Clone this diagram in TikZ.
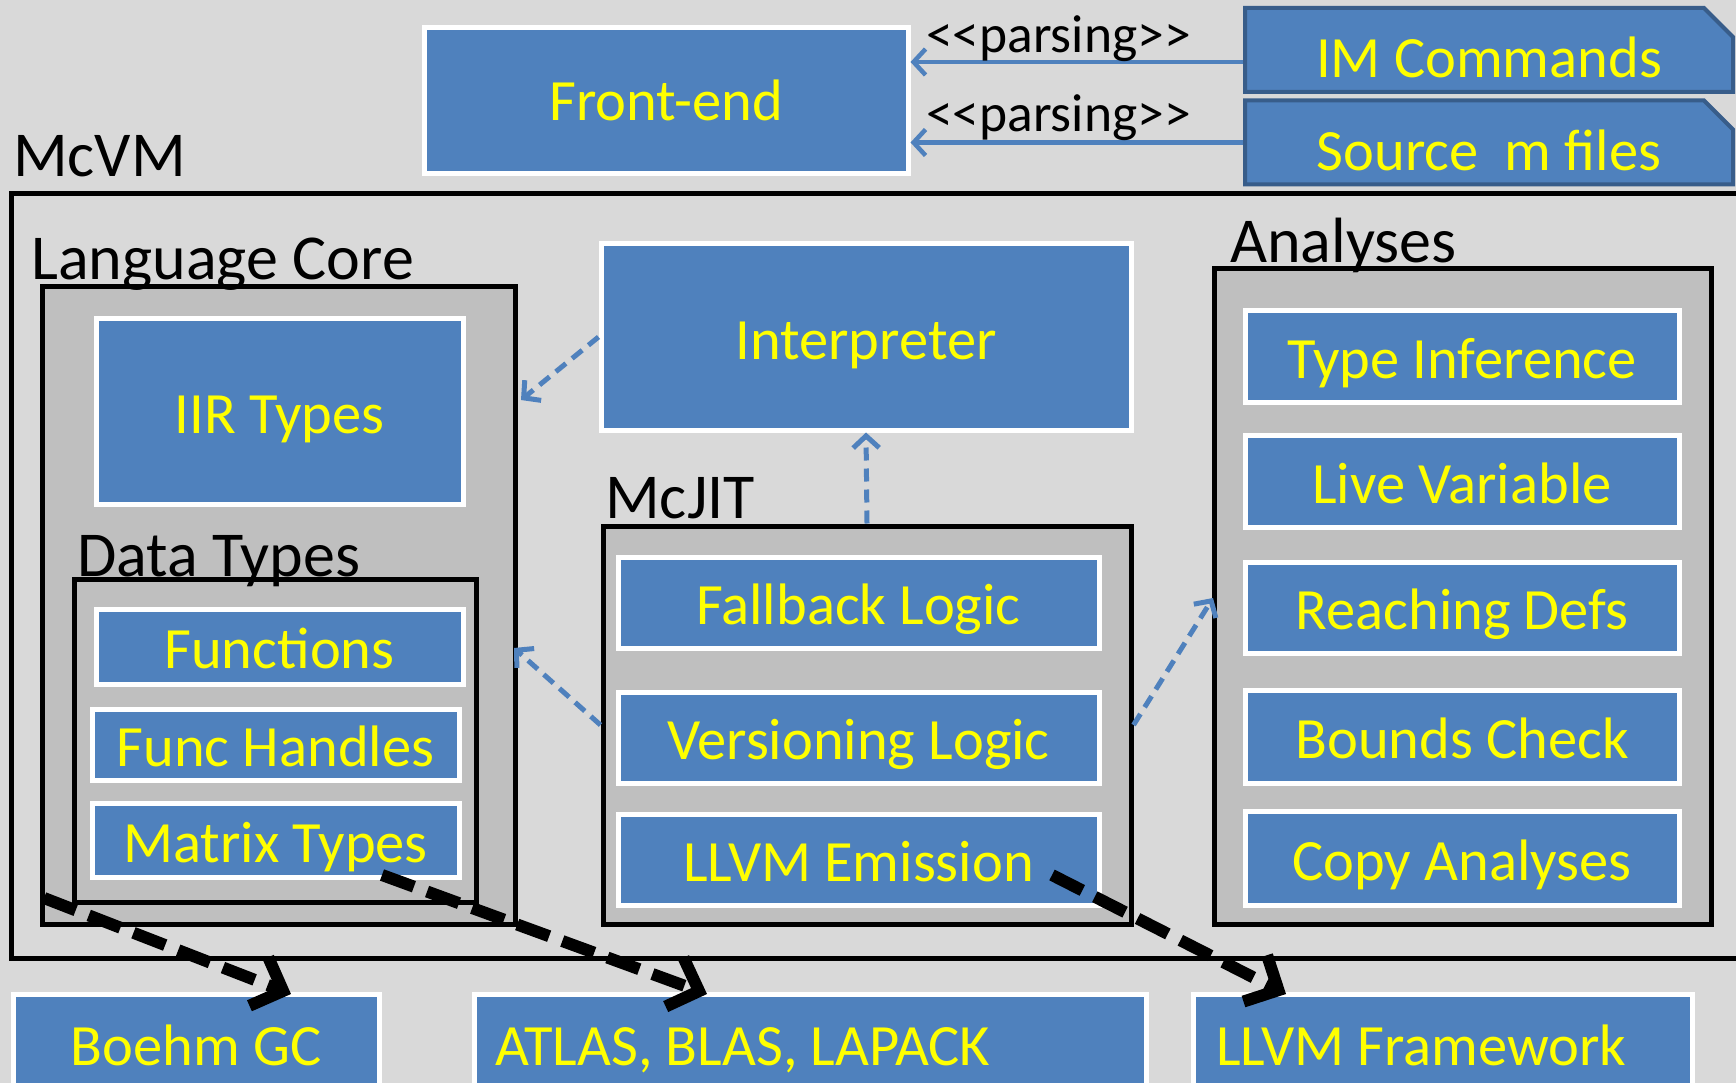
\documentclass[tikz,border=0pt]{standalone}
\usepackage{fontspec}
\setmainfont{Carlito}
\usetikzlibrary{arrows.meta,shapes.misc}
\definecolor{bggray}{HTML}{D9D9D9}
\definecolor{boxgray}{HTML}{BFBFBF}
\definecolor{mblue}{HTML}{4F81BD}
\definecolor{dblue}{HTML}{385D8A}
\definecolor{myellow}{HTML}{FFFF00}
\begin{document}
\begin{tikzpicture}[x=1pt,y=-1pt,
    blk/.style={fill=mblue,draw=white,line width=5pt,text=myellow,inner sep=0pt,text height=44pt,text depth=0pt,font=\fontsize{58.5}{70}\selectfont},
    file/.style={chamfered rectangle,chamfered rectangle corners=north east,chamfered rectangle xsep=15pt,chamfered rectangle ysep=14pt,
        fill=mblue,draw=dblue,line width=4pt,text=myellow,inner sep=0pt,text height=56pt,text depth=-6pt,font=\fontsize{58.5}{70}\selectfont},
    grp/.style={fill=boxgray,draw=black,line width=5pt,inner sep=0pt},
    ttl/.style={anchor=base west,inner sep=0pt,font=\fontsize{64}{76}\selectfont},
    uses/.style={draw=mblue,line width=5pt,dash pattern=on 13pt off 8pt,-{Straight Barb[length=12pt,width=26pt]}},
    parse/.style={draw=mblue,line width=4.5pt,-{Straight Barb[length=12pt,width=26pt]}},
    plbl/.style={anchor=base,inner sep=0pt,font=\fontsize{53.5}{64}\selectfont},
    links/.style={line width=12pt,dash pattern=on 34pt off 14pt,-{Straight Barb[length=26pt,width=52pt]}}]
\useasboundingbox (0,0) rectangle (1736,1083);
\fill[bggray] (0,0) rectangle (1736,1083);

\node[blk,minimum width=484pt,minimum height=146pt,text height=40pt] (fe) at (666,101) {Front-end};
\node[file,minimum width=488pt,minimum height=71pt] (imcmd) at (1489,50) {IM Commands};
\node[file,minimum width=488pt,minimum height=74pt] (srcm) at (1489,142.5) {Source\ \ m files};

\draw[parse] ([yshift=-12pt]imcmd.west) -- node[plbl,pos=0.555,yshift=9pt] (p1) {<\kern0pt<parsing>\kern0pt>} ([yshift=-12pt]imcmd.west -| fe.east);
\draw[parse] (srcm.west) -- node[plbl,pos=0.555,yshift=11pt] (p2) {<\kern0pt<parsing>\kern0pt>} (srcm.west -| fe.east);

\node[draw=black,line width=5pt,inner sep=0pt,minimum width=1760pt,minimum height=764pt] (mcvm) at (891,576) {};
\node[ttl] (mcvmlbl) at (13,177) {McVM};

% language core
\node[grp,minimum width=473pt,minimum height=638pt] (lcore) at (278.5,605) {};
\node[ttl] (lcorelbl) at (31,279) {Language Core};
\node[blk,minimum width=367pt,minimum height=186pt] (iir) at (279.5,411) {IIR Types};
\node[grp,minimum width=402pt,minimum height=323pt] (dtypes) at (275,740.5) {};
\node[ttl] (dtypeslbl) at (77,576) {Data Types};
\node[blk,minimum width=367pt,minimum height=75pt] (funcs) at (279.5,646.5) {Functions};
\node[blk,minimum width=367pt,minimum height=71pt] (fhandles) at (275.5,744.5) {Func Handles};
\node[blk,minimum width=367pt,minimum height=74pt] (matrix) at (275.5,840) {Matrix Types};

% jit
\node[blk,minimum width=530pt,minimum height=186pt] (interp) at (866,337) {Interpreter};
\node[grp,minimum width=528pt,minimum height=398pt] (mcjit) at (867,725) {};
\node[ttl] (mcjitlbl) at (605,518) {McJIT};
\node[blk,minimum width=481pt,minimum height=91pt] (fallback) at (858.5,602.5) {Fallback Logic};
\node[blk,minimum width=481pt,minimum height=91pt] (version) at (858.5,737.5) {Versioning Logic};
\node[blk,minimum width=481pt,minimum height=91pt] (emit) at (858.5,859.5) {LLVM Emission};

% analyses
\node[grp,minimum width=497pt,minimum height=656pt] (anal) at (1462.5,596) {};
\node[ttl] (anallbl) at (1230,262) {Analyses};
\node[blk,minimum width=434pt,minimum height=92pt] (typeinf) at (1462,356) {Type Inference};
\node[blk,minimum width=434pt,minimum height=92pt] (livevar) at (1462,481) {Live Variable};
\node[blk,minimum width=434pt,minimum height=91pt] (reach) at (1462,607.5) {Reaching Defs};
\node[blk,minimum width=434pt,minimum height=93pt] (bounds) at (1462,736.5) {Bounds Check};
\node[blk,minimum width=434pt,minimum height=94pt] (copyan) at (1462,858) {Copy Analyses};

% libraries
\node[blk,minimum width=366pt,minimum height=98pt] (gc) at (196,1043) {Boehm GC};
\node[blk,minimum width=672pt,minimum height=98pt,inner xsep=21pt] (blas) at (810,1043) {\makebox[630pt][l]{ATLAS, BLAS, LAPACK}};
\node[blk,minimum width=499pt,minimum height=98pt,inner xsep=23pt] (llvm) at (1442.5,1043) {\makebox[453pt][l]{LLVM Framework}};

\coordinate (lcin1) at (521,400);
\coordinate (lcin2) at (514,648);
\coordinate (anin) at (1213,598);
\draw[uses] (interp.west) -- (lcin1);
\draw[uses] (mcjit.north) -- (interp.south);
\draw[uses] (mcjit.west) -- (lcin2);
\draw[uses] (mcjit.east) -- (anin);

\coordinate (gcsrc) at (44,898);
\coordinate (gcdst) at (291,994);
\coordinate (blsrc) at (382,875);
\coordinate (bldst) at (707,994);
\coordinate (llsrc) at (1052,875);
\coordinate (lldst) at (1286,994);
\draw[links] (gcsrc) -- (gcdst);
\draw[links] (blsrc) -- (bldst);
\draw[links] (llsrc) -- (lldst);
\end{tikzpicture}
\end{document}
